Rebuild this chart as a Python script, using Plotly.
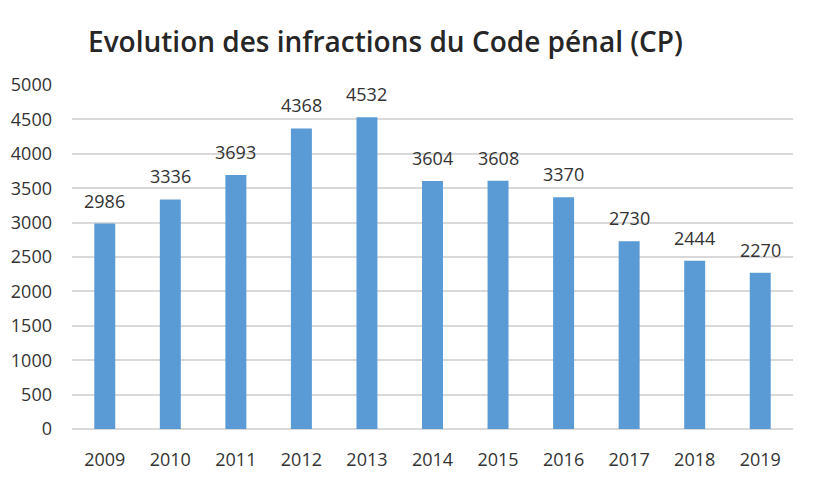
import plotly.graph_objects as go

years = ["2009", "2010", "2011", "2012", "2013", "2014", "2015", "2016", "2017", "2018", "2019"]
values = [2986, 3336, 3693, 4368, 4532, 3604, 3608, 3370, 2730, 2444, 2270]
y_ticks = [0, 500, 1000, 1500, 2000, 2500, 3000, 3500, 4000, 4500, 5000]
title_text = "Evolution des infractions du Code pénal (CP)"

FONT = "Open Sans"
TXT = "#333333"

fig = go.Figure()
fig.add_trace(go.Bar(
    x=years, y=values,
    marker=dict(color="#5B9BD5", line=dict(width=0)),
    hoverinfo="x+y",
))

for i, v in enumerate(values):
    fig.add_annotation(
        x=i, y=v, text=str(v), showarrow=False,
        xref="x", yref="y",
        yanchor="bottom", yshift=9,
        font=dict(family=FONT, size=18, color=TXT),
    )

fig.update_layout(
    width=813, height=479,
    margin=dict(l=72, r=20, t=85, b=50),
    paper_bgcolor="white", plot_bgcolor="white",
    bargap=0.68,
    showlegend=False,
    title=dict(
        text=title_text, x=88 / 813, xanchor="left",
        y=1 - 42 / 479, yanchor="middle",
        font=dict(family=FONT, size=28, color="#262626", weight=600),
    ),
    xaxis=dict(
        type="category",
        range=[-0.5, len(years) - 0.5],
        tickfont=dict(family=FONT, size=18, color=TXT),
        showgrid=False, showline=False, zeroline=False,
        ticks="", ticklabelstandoff=18, automargin=False,
    ),
    yaxis=dict(
        range=[0, 5000], tickvals=y_ticks,
        tickfont=dict(family=FONT, size=18, color=TXT),
        showgrid=True, gridcolor="#D9D9D9", gridwidth=1.5,
        zeroline=True, zerolinecolor="#D9D9D9", zerolinewidth=1.5,
        showline=False, ticks="", ticklabelstandoff=19, automargin=False,
    ),
)

fig.write_html("out.html")
